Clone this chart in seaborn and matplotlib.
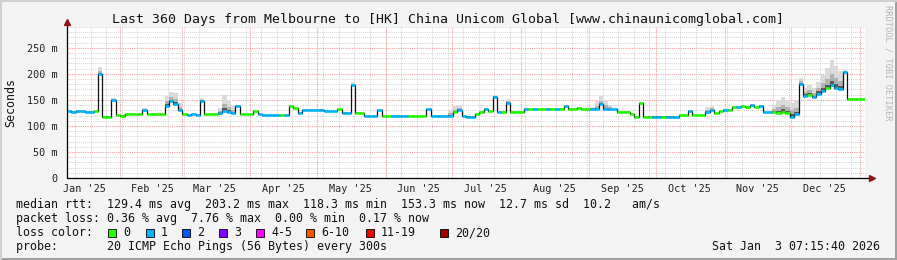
import numpy as np
import pandas as pd
import matplotlib
matplotlib.use("Agg")
import matplotlib.pyplot as plt
import matplotlib.dates as mdates
from matplotlib.patches import Rectangle
from matplotlib.ticker import FixedLocator, FixedFormatter, MultipleLocator, NullFormatter
import seaborn as sns

# ---------------- data (2-day bins, Jan 8 2025 -> Jan 3 2026) ----------------
start_time = "2025-01-08 07:15:40"
bin_days = 2
median_ms = [
    128, 127, 129, 128, 126, 127, 128, 200, 118, 118,
    150, 121, 120, 122, 122, 122, 122, 131, 122, 122,
    122, 122, 138, 147, 142, 130, 122, 121, 122, 121,
    148, 122, 122, 122, 125, 128, 126, 124, 138, 122,
    122, 122, 129, 122, 121, 121, 121, 121, 121, 121,
    138, 134, 125, 131, 131, 130, 131, 131, 128, 128,
    128, 132, 125, 125, 178, 125, 124, 119, 119, 119,
    130, 119, 119, 119, 119, 119, 119, 119, 119, 119,
    119, 132, 119, 119, 119, 119, 119, 126, 130, 119,
    118, 118, 123, 127, 132, 128, 156, 127, 127, 145,
    127, 127, 127, 132, 132, 132, 132, 132, 132, 132,
    132, 132, 138, 132, 132, 135, 132, 132, 132, 132,
    142, 132, 132, 132, 127, 127, 127, 122, 118, 144,
    118, 118, 118, 118, 118, 118, 118, 118, 121, 121,
    129, 121, 121, 121, 126, 130, 124, 128, 131, 131,
    136, 136, 138, 136, 140, 136, 138, 126, 126, 126,
    125, 127, 124, 118, 122, 180, 158, 160, 155, 162,
    168, 172, 178, 172, 170, 203, 152, 152, 152, 152,
]
smoke_top_ms = [
    130, 129, 131, 130, 128, 129, 130, 214, 120, 120,
    154, 123, 122, 124, 124, 124, 124, 134, 124, 124,
    124, 124, 158, 166, 164, 145, 124, 123, 124, 123,
    153, 124, 124, 124, 135, 160, 150, 138, 141, 124,
    124, 124, 131, 124, 123, 123, 123, 123, 123, 123,
    140, 136, 127, 133, 133, 132, 133, 133, 130, 130,
    130, 135, 127, 127, 184, 127, 126, 121, 121, 121,
    133, 121, 121, 121, 121, 121, 121, 121, 121, 121,
    121, 134, 121, 121, 121, 121, 130, 138, 141, 121,
    120, 120, 125, 129, 134, 130, 159, 129, 129, 151,
    129, 129, 129, 134, 134, 134, 134, 134, 134, 134,
    134, 134, 140, 134, 134, 137, 134, 134, 136, 148,
    157, 150, 140, 134, 129, 129, 129, 124, 120, 146,
    120, 120, 120, 120, 120, 120, 120, 120, 123, 123,
    131, 123, 123, 123, 137, 138, 126, 130, 133, 133,
    138, 138, 141, 138, 142, 138, 141, 128, 128, 140,
    150, 155, 150, 145, 150, 192, 172, 178, 172, 185,
    198, 212, 227, 216, 205, 207, 154, 154, 154, 154,
]
loss_count = [
    1, 1, 1, 1, 1, 1, 0, 1, 0, 0,
    1, 0, 0, 0, 0, 0, 0, 1, 0, 0,
    0, 0, 1, 1, 1, 1, 0, 1, 1, 1,
    1, 0, 0, 0, 1, 1, 1, 1, 1, 0,
    0, 0, 0, 1, 1, 1, 1, 1, 0, 1,
    0, 0, 1, 1, 1, 1, 1, 1, 1, 1,
    1, 0, 1, 1, 1, 0, 0, 1, 1, 1,
    1, 0, 0, 1, 1, 1, 1, 0, 0, 0,
    0, 1, 1, 1, 1, 1, 1, 0, 1, 1,
    1, 1, 0, 0, 1, 0, 1, 1, 0, 1,
    0, 0, 0, 1, 0, 1, 0, 0, 1, 0,
    1, 0, 1, 0, 0, 0, 0, 0, 1, 1,
    1, 1, 1, 1, 0, 0, 0, 0, 0, 0,
    0, 0, 1, 1, 0, 1, 1, 1, 0, 0,
    1, 0, 0, 0, 1, 1, 0, 0, 1, 0,
    0, 1, 0, 0, 1, 0, 1, 1, 1, 0,
    0, 0, 0, 1, 1, 1, 1, 0, 1, 1,
    1, 0, 1, 1, 1, 1, 0, 0, 0, 0,
]
loss_labels = ["0", "1", "2", "3", "4-5", "6-10", "11-19", "20/20"]
loss_colors = ["#26ff00", "#00b8ff", "#0059ff", "#7e00ff", "#ff00ff", "#ff5500", "#ff0000", "#a00000"]
y_ticks = [0, 50, 100, 150, 200, 250]
y_tick_labels = ["0", "50 m", "100 m", "150 m", "200 m", "250 m"]

title = "Last 360 Days from Melbourne to [HK] China Unicom Global [www.chinaunicomglobal.com]"
legend_rtt = "median rtt:  129.4 ms avg  203.2 ms max  118.3 ms min  153.3 ms now  12.7 ms sd  10.2   am/s"
legend_loss = "packet loss: 0.36 % avg  7.76 % max  0.00 % min  0.17 % now"
legend_probe = "probe:       20 ICMP Echo Pings (56 Bytes) every 300s"
stamp = "Sat Jan  3 07:15:40 2026"

# ---------------- figure ----------------
sns.set_theme(style="white")
plt.rcParams["font.family"] = ["DejaVu Sans Mono", "DejaVu Sans"]

W, H = 897, 260
fig = plt.figure(figsize=(W / 100, H / 100), dpi=100)
fig.patch.set_facecolor("#f3f3f3")
ax = fig.add_axes([67 / W, 82 / H, 798 / W, 151 / H])
ax.set_facecolor("white")

t0 = pd.Timestamp(start_time)
edges = pd.date_range(t0, periods=len(median_ms) + 1, freq=f"{bin_days}D")
med = np.array(median_ms, dtype=float)
top = np.array(smoke_top_ms, dtype=float)
med_e = np.append(med, med[-1])
top_e = np.append(top, top[-1])

# smoke (light to dark toward the median)
ax.fill_between(edges, med_e, top_e, step="post", color="#dadada", lw=0, zorder=2)
ax.fill_between(edges, med_e, med_e + (top_e - med_e) * 0.45, step="post", color="#b2b2b2", lw=0, zorder=2)
ax.fill_between(edges, med_e, med_e + (top_e - med_e) * 0.18, step="post", color="#5a5a5a", lw=0, zorder=2)

# median step line
df = pd.DataFrame({"time": edges[:-1], "median": med})
sns.lineplot(data=df, x="time", y="median", drawstyle="steps-post", color="#111111",
             lw=0.9, ax=ax, estimator=None, zorder=3)
# loss-coloured median segments
ax.hlines(med, edges[:-1], edges[1:], colors=[loss_colors[c] for c in loss_count],
          lw=1.9, zorder=4)

ax.set_xlim(edges[0], t0 + pd.Timedelta(days=360))
ax.set_ylim(0, 290)
ax.set_xlabel("")
ax.set_ylabel("")

# grids
ax.yaxis.set_major_locator(FixedLocator(y_ticks))
ax.yaxis.set_major_formatter(FixedFormatter(y_tick_labels))
ax.yaxis.set_minor_locator(MultipleLocator(10))
ax.xaxis.set_major_locator(mdates.MonthLocator(bymonthday=16))
ax.xaxis.set_major_formatter(mdates.DateFormatter("%b '%y"))
ax.xaxis.set_minor_locator(mdates.WeekdayLocator(byweekday=mdates.SU))
ax.xaxis.set_minor_formatter(NullFormatter())
ax.grid(False)
ax.yaxis.grid(True, which="minor", color="#d4d4d4", ls=(0, (1, 1)), lw=0.7, zorder=0)
ax.xaxis.grid(True, which="minor", color="#d4d4d4", ls=(0, (1, 1)), lw=0.7, zorder=0)
ax.yaxis.grid(True, which="major", color="#f2a0a0", ls=(0, (1, 1)), lw=0.8, zorder=1)
for m in mdates.MonthLocator().tick_values(edges[0], t0 + pd.Timedelta(days=360)):
    ax.axvline(m, color="#f2a0a0", ls=(0, (1, 1)), lw=0.8, zorder=1)
ax.set_axisbelow(True)

ax.tick_params(axis="both", which="both", length=0, labelsize=7.3, colors="#222222")
ax.tick_params(axis="y", pad=7)
ax.tick_params(axis="x", pad=4)
for s in ax.spines.values():
    s.set_visible(False)

# axis lines with arrows
ax.plot([0, 0], [0, 1.03], transform=ax.transAxes, color="black", lw=0.9, clip_on=False, zorder=5)
ax.plot([0, 1.009], [0, 0], transform=ax.transAxes, color="black", lw=0.9, clip_on=False, zorder=5)
ax.plot([0], [1.03], transform=ax.transAxes, marker="^", ms=4.5, color="#8b1515", clip_on=False, zorder=6)
ax.plot([1.009], [0], transform=ax.transAxes, marker=">", ms=4.5, color="#8b1515", clip_on=False, zorder=6)

# texts
fig.text(448 / W, 1 - 19 / H, title, ha="center", va="center", fontsize=9.5, color="#111111")
fig.text(11 / W, 1 - 103 / H, "Seconds", rotation=90, ha="center", va="center", fontsize=8.4, color="#111111")
fig.text(888 / W, 1 - 5 / H, "RRDTOOL / TOBI OETIKER", rotation=270, ha="center", va="top",
         fontsize=6.2, color="#b4b4b4")
fig.text(16 / W, 1 - 204.5 / H, legend_rtt, ha="left", va="center", fontsize=8.4, color="#111111")
fig.text(16 / W, 1 - 218.5 / H, legend_loss, ha="left", va="center", fontsize=8.4, color="#111111")
fig.text(16 / W, 1 - 232.5 / H, "loss color:", ha="left", va="center", fontsize=8.4, color="#111111")
fig.text(16 / W, 1 - 246.5 / H, legend_probe, ha="left", va="center", fontsize=8.4, color="#111111")
fig.text(880 / W, 1 - 246.5 / H, stamp, ha="right", va="center", fontsize=8.4, color="#111111")

box_x = [108, 146, 182, 219, 256, 306, 366, 440]
for bx, lab, col in zip(box_x, loss_labels, loss_colors):
    fig.patches.append(Rectangle((bx / W, 1 - 236.5 / H), 8 / W, 8 / H, transform=fig.transFigure,
                                 facecolor=col, edgecolor="black", lw=0.6))
    fig.text((bx + 15) / W, 1 - 232.5 / H, lab, ha="left", va="center", fontsize=8.4, color="#111111")

# frame
fig.patches.append(Rectangle((0, 0), 1, 2 / H, transform=fig.transFigure, facecolor="#a0a0a0", lw=0))
fig.patches.append(Rectangle((1 - 2 / W, 0), 2 / W, 1, transform=fig.transFigure, facecolor="#a0a0a0", lw=0))
fig.patches.append(Rectangle((0, 1 - 2 / H), 1, 2 / H, transform=fig.transFigure, facecolor="#d0d0d0", lw=0))
fig.patches.append(Rectangle((0, 0), 2 / W, 1, transform=fig.transFigure, facecolor="#d0d0d0", lw=0))

fig.savefig("out.png", dpi=100, facecolor=fig.get_facecolor())
